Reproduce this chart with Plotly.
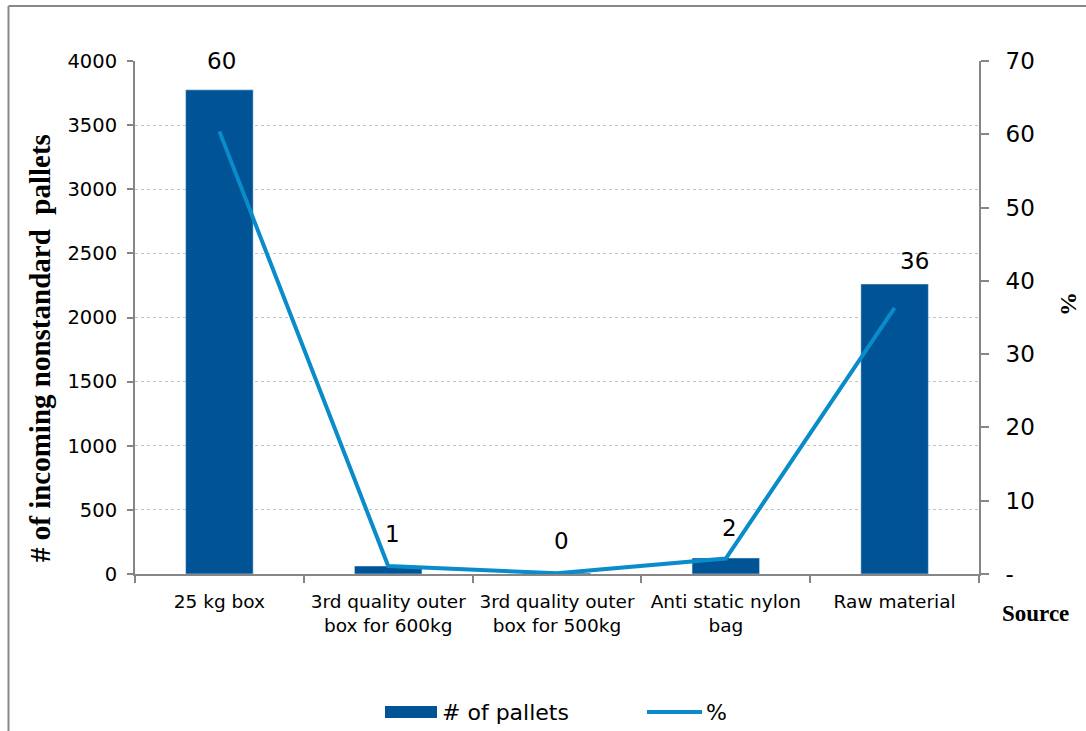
import plotly.graph_objects as go

categories = ["25 kg box", "3rd quality outer<br>box for 600kg", "3rd quality outer<br>box for 500kg",
              "Anti static nylon<br>bag", "Raw material"]
pallets = [3775, 62, 8, 125, 2261]
pct = [60.4, 1.1, 0.1, 2.1, 36.3]
pct_labels = ["60", "1", "0", "2", "36"]
left_ticks = [0, 500, 1000, 1500, 2000, 2500, 3000, 3500, 4000]
right_ticks = [0, 10, 20, 30, 40, 50, 60, 70]
right_ticktext = ["-", "10", "20", "30", "40", "50", "60", "70"]

BAR = "#005394"
LINE = "#0A8BCA"
AX = "#868686"
SANS = "DejaVu Sans, Arial, sans-serif"
SERIF = "Liberation Serif, Times New Roman, serif"

fig = go.Figure()
fig.add_trace(go.Bar(x=categories, y=pallets, name="# of pallets", marker_color=BAR,
                     width=0.4, yaxis="y", showlegend=False))
fig.add_trace(go.Scatter(x=categories, y=pct, name="%", mode="lines",
                         line=dict(color=LINE, width=4), yaxis="y2", showlegend=False))

yshifts = [70, 32, 32, 31, 47]
xshifts = [2, 4, 4, 4, 20]
for c, v, t, ys, xs in zip(categories, pct, pct_labels, yshifts, xshifts):
    fig.add_annotation(x=c, y=v, xref="x", yref="y2", text=t, showarrow=False,
                       yshift=ys, xshift=xs, font=dict(family=SANS, size=23, color="#000"))

L, R, T, B = 135, 107, 61, 157
W, H = 1086, 731
pw, ph = W - L - R, H - T - B

def px(x):
    return (x - L) / pw

def py(y):
    return (H - B - y) / ph

fig.update_layout(
    width=W, height=H,
    margin=dict(l=L, r=R, t=T, b=B),
    plot_bgcolor="white", paper_bgcolor="white",
    showlegend=False,
    bargap=0.6,
    xaxis=dict(showline=True, linecolor=AX, linewidth=2, ticks="outside", tickson="boundaries",
               tickcolor=AX, ticklen=7, tickwidth=1.5, ticklabelstandoff=10, tickangle=0,
               tickfont=dict(family=SANS, size=18.5, color="#000"), showgrid=False),
    yaxis=dict(range=[0, 4000], tickvals=left_ticks, showline=True, linecolor=AX, linewidth=2,
               ticks="outside", tickcolor=AX, ticklen=6, tickwidth=1.5, ticklabelstandoff=6,
               tickfont=dict(family=SANS, size=19.5, color="#000"),
               showgrid=True, gridcolor="#C4C4C4", griddash="dot", gridwidth=1, zeroline=False),
    yaxis2=dict(range=[0, 70], tickvals=right_ticks, ticktext=right_ticktext, overlaying="y",
                side="right", showline=True, linecolor=AX, linewidth=2, ticks="outside",
                tickcolor=AX, ticklen=8, tickwidth=1.5, ticklabelstandoff=12,
                tickfont=dict(family=SANS, size=23, color="#000"), showgrid=False, zeroline=False),
    font=dict(family=SANS, color="#000"),
)

fig.add_annotation(x=px(40), y=py(348), xref="paper", yref="paper", text="<b># of incoming nonstandard  pallets</b>",
                   textangle=-90, showarrow=False, xanchor="center", yanchor="middle",
                   font=dict(family=SERIF, size=29, color="#000"))
fig.add_annotation(x=px(1068), y=py(304), xref="paper", yref="paper", text="<b>%</b>",
                   textangle=-90, showarrow=False, xanchor="center", yanchor="middle",
                   font=dict(family=SERIF, size=24, color="#000"))
fig.add_annotation(x=px(1035), y=py(613), xref="paper", yref="paper", text="<b>Source</b>",
                   showarrow=False, xanchor="center", yanchor="middle",
                   font=dict(family=SERIF, size=23, color="#000"))

# legend (manual, to match the wide swatches)
fig.add_shape(type="rect", xref="paper", yref="paper", x0=px(385), x1=px(437), y0=py(718), y1=py(706),
              fillcolor=BAR, line=dict(width=0))
fig.add_annotation(x=px(440), y=py(712), xref="paper", yref="paper", text="# of pallets",
                   xanchor="left", yanchor="middle",
                   showarrow=False, font=dict(family=SANS, size=22, color="#000"))
fig.add_shape(type="line", xref="paper", yref="paper", x0=px(647), x1=px(702), y0=py(712), y1=py(712),
              line=dict(color=LINE, width=4))
fig.add_annotation(x=px(704), y=py(712), xref="paper", yref="paper", text="%",
                   xanchor="left", yanchor="middle",
                   showarrow=False, font=dict(family=SANS, size=22, color="#000"))

# outer frame
fig.add_shape(type="line", xref="paper", yref="paper", x0=px(8.5), x1=px(8.5), y0=py(6), y1=py(740),
              line=dict(color="#888888", width=2))
fig.add_shape(type="line", xref="paper", yref="paper", x0=px(8.5), x1=px(1100), y0=py(6), y1=py(6),
              line=dict(color="#888888", width=2))

fig.write_html("out.html", config={"displayModeBar": False},
               post_script="document.body.style.margin='0px';")
